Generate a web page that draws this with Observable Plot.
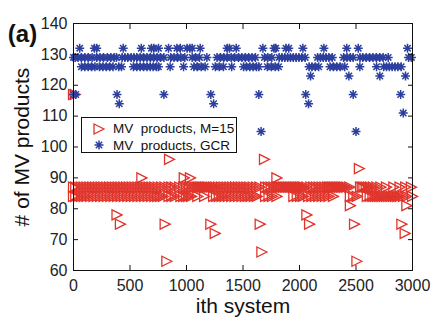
<!DOCTYPE html>
<html>
<head>
<meta charset="utf-8">
<script src="https://cdn.jsdelivr.net/npm/d3@7"></script>
<script src="https://cdn.jsdelivr.net/npm/@observablehq/plot@0.6"></script>
<style>
  body { margin: 0; background: #fff; }
  #wrap { position: relative; width: 431px; height: 323px; font-family: "Liberation Sans", Arial, Helvetica, sans-serif; }
  #legend { position: absolute; left: 81px; top: 117px; width: 154px; height: 34px; border: 1.5px solid #111; background: #fff; }
  .row { position: absolute; left: 0; height: 17px; display: flex; align-items: center; }
  .row svg { position: absolute; left: 10px; }
  .row span { position: absolute; left: 31px; font-size: 13.5px; white-space: pre; color: #111; line-height: 17px; }
</style>
</head>
<body>
<div id="wrap"></div>
<script>
// ---- data: system index values at each MV-product count ----
// GCR (blue asterisks)
const gcrAt132 = [55, 185, 205, 440, 600, 690, 710, 752, 841, 915, 945, 1005, 1030, 1050, 1121, 1360, 1380, 1440, 1676, 1775, 1790, 1880, 1905, 2030, 2216, 2418, 2520, 2956];
const gcrAt129 = [0, 15, 40, 70, 100, 130, 165, 205, 235, 265, 300, 330, 360, 380, 430, 455, 480, 510, 535, 560, 590, 620, 650, 680, 710, 740, 770, 800, 860, 890, 920, 950, 985, 1050, 1080, 1115, 1180, 1270, 1300, 1330, 1360, 1395, 1425, 1460, 1490, 1520, 1550, 1580, 1610, 1690, 1720, 1755, 1820, 1845, 1870, 1895, 1920, 1945, 1970, 1995, 2020, 2050, 2160, 2185, 2210, 2235, 2260, 2290, 2390, 2420, 2450, 2475, 2535, 2560, 2590, 2620, 2650, 2680, 2710, 2740, 2785, 2965, 2990];
const gcrAt126 = [70, 100, 130, 160, 190, 230, 260, 290, 320, 350, 400, 425, 530, 560, 590, 620, 650, 680, 705, 735, 752, 855, 974, 1065, 1095, 1130, 1165, 1255, 1290, 1327, 1400, 1505, 1530, 1560, 1590, 1620, 1640, 1715, 1750, 1785, 1815, 2085, 2110, 2140, 2170, 2270, 2300, 2330, 2360, 2400, 2534, 2682, 2745, 2770, 2795, 2820, 2845, 2870, 2900];
const gcrAt123 = [2098, 2437, 2711, 2938];
const gcrAt117 = [0, 20, 385, 800, 1215, 1640, 2055, 2475, 2895];
const gcrAt114 = [405, 1240, 2080];
const gcrAt111 = [2918];
const gcrAt105 = [1660, 2500];

// M=15 (red triangles)
const m15At117 = [0, 15];
const m15At96 = [850, 1690];
const m15At93 = [2530];
const m15At90 = [605, 980, 1035, 1800];
const m15At87 = [0, 20, 45, 70, 95, 120, 145, 170, 195, 220, 245, 270, 295, 320, 345, 370, 395, 420, 445, 470, 495, 520, 545, 570, 595, 620, 645, 670, 695, 720, 750, 780, 810, 845, 870, 900, 940, 975, 1000, 1025, 1050, 1075, 1095, 1110, 1125, 1140, 1155, 1170, 1185, 1200, 1220, 1240, 1260, 1285, 1310, 1335, 1360, 1385, 1410, 1435, 1460, 1485, 1510, 1535, 1560, 1590, 1620, 1650, 1700, 1725, 1750, 1775, 1800, 1815, 1830, 1845, 1860, 1875, 1890, 1905, 1920, 1935, 1950, 1965, 1980, 1995, 2010, 2025, 2040, 2065, 2100, 2125, 2150, 2175, 2200, 2225, 2250, 2265, 2280, 2295, 2310, 2325, 2340, 2355, 2370, 2385, 2400, 2420, 2445, 2540, 2555, 2570, 2590, 2610, 2630, 2655, 2685, 2720, 2770, 2835, 2890, 2940, 2990];
const m15At84 = [0, 20, 45, 70, 95, 120, 150, 180, 210, 240, 270, 300, 330, 360, 390, 420, 450, 480, 510, 540, 570, 600, 630, 660, 690, 720, 745, 770, 795, 845, 870, 900, 950, 975, 1000, 1020, 1045, 1100, 1160, 1240, 1265, 1290, 1315, 1340, 1370, 1400, 1430, 1460, 1490, 1520, 1545, 1570, 1600, 1625, 1700, 1730, 1760, 1800, 1950, 1980, 2010, 2035, 2080, 2110, 2140, 2170, 2200, 2230, 2260, 2300, 2450, 2480, 2510, 2600, 2625, 2650, 2670, 2690, 2710, 2730, 2750, 2770, 2790, 2810, 2830, 2850, 2870, 2890, 2920, 2950, 3000];
const m15At81 = [2450, 2950];
const m15At78 = [385, 2065];
const m15At75 = [415, 811, 1215, 1652, 2089, 2487, 2906];
const m15At72 = [1254, 2935];
const m15At66 = [1667];
const m15At63 = [826, 2508];

const xTicks = [0, 500, 1000, 1500, 2000, 2500, 3000];
const yTicks = [60, 70, 80, 90, 100, 110, 120, 130, 140];
const seriesNames = ["MV  products, M=15", "MV  products, GCR"];
const xLabel = "ith system";
const yLabel = "# of MV products";
const panelTag = "(a)";

// ---- build tables ----
const toRows = (pairs) => pairs.flatMap(([n, xs]) => xs.map(i => ({i, n})));
const gcrRows = toRows([[132, gcrAt132], [129, gcrAt129], [126, gcrAt126], [123, gcrAt123], [117, gcrAt117], [114, gcrAt114], [111, gcrAt111], [105, gcrAt105]]);
const m15Rows = toRows([[117, m15At117], [96, m15At96], [93, m15At93], [90, m15At90], [87, m15At87], [84, m15At84], [81, m15At81], [78, m15At78], [75, m15At75], [72, m15At72], [66, m15At66], [63, m15At63]]);

const RED = "#e0342b";
const BLUE = "#2d3f9e";
const INK = "#111";

const triRight = {draw(ctx, size) {
  const r = Math.sqrt(size / Math.PI);
  ctx.moveTo(r, 0); ctx.lineTo(-r, -r); ctx.lineTo(-r, r); ctx.closePath();
}};
const star8 = {draw(ctx, size) {
  const r = Math.sqrt(size / Math.PI), d = r * Math.SQRT1_2;
  ctx.moveTo(-r, 0); ctx.lineTo(r, 0);
  ctx.moveTo(0, -r); ctx.lineTo(0, r);
  ctx.moveTo(-d, -d); ctx.lineTo(d, d);
  ctx.moveTo(-d, d); ctx.lineTo(d, -d);
}};

const font = "Liberation Sans, Arial, Helvetica, sans-serif";
const plain = (d) => String(d);

const chart = Plot.plot({
  width: 431,
  height: 323,
  marginLeft: 73,
  marginRight: 19,
  marginTop: 23,
  marginBottom: 53,
  style: {fontFamily: font, background: "#fff", color: INK, overflow: "visible"},
  x: {domain: [0, 3000], ticks: xTicks},
  y: {domain: [60, 140], ticks: yTicks},
  marks: [
    Plot.dot(m15Rows, {x: "i", y: "n", symbol: triRight, r: 5, stroke: RED, fill: "none", strokeWidth: 1.3}),
    Plot.dot(gcrRows, {x: "i", y: "n", symbol: star8, r: 4.5, stroke: BLUE, fill: "none", strokeWidth: 1.5}),
    Plot.frame({stroke: INK, strokeWidth: 1}),
    Plot.axisX(xTicks, {anchor: "bottom", tickSize: -5, tickPadding: 14, fontSize: 16, tickFormat: plain, label: null, fill: "#222", stroke: INK}),
    Plot.axisX(xTicks, {anchor: "top", tickSize: -5, tickFormat: () => "", label: null, stroke: INK}),
    Plot.axisY(yTicks, {anchor: "left", tickSize: -5, tickPadding: 11, fontSize: 16, tickFormat: plain, label: null, fill: "#222", stroke: INK}),
    Plot.axisY(yTicks, {anchor: "right", tickSize: -5, tickFormat: () => "", label: null, stroke: INK}),
    Plot.text([xLabel], {frameAnchor: "bottom", dy: 42, fontSize: 21, fill: INK}),
    Plot.text([yLabel], {frameAnchor: "left", textAnchor: "middle", dx: -51, rotate: -90, fontSize: 21, fill: INK}),
    Plot.text([panelTag], {frameAnchor: "top-left", textAnchor: "middle", dx: -51, dy: 1, fontSize: 24, fontWeight: "bold", fill: INK})
  ]
});

const wrap = document.getElementById("wrap");
wrap.appendChild(chart);

// legend
const legend = document.createElement("div");
legend.id = "legend";
const triPath = d3.path(); triRight.draw(triPath, Math.PI * 5 * 5);
const starPath = d3.path(); star8.draw(starPath, Math.PI * 4.5 * 4.5);
const items = [
  {name: seriesNames[0], d: triPath.toString(), color: RED, sw: 1.3},
  {name: seriesNames[1], d: starPath.toString(), color: BLUE, sw: 1.5}
];
items.forEach((it, k) => {
  const row = document.createElement("div");
  row.className = "row";
  row.style.top = (2 + k * 16.5) + "px";
  row.innerHTML = `<svg width="14" height="14" viewBox="-7 -7 14 14" style="top:1.5px"><path d="${it.d}" fill="none" stroke="${it.color}" stroke-width="${it.sw}"/></svg><span>${it.name}</span>`;
  legend.appendChild(row);
});
wrap.appendChild(legend);
</script>
</body>
</html>
